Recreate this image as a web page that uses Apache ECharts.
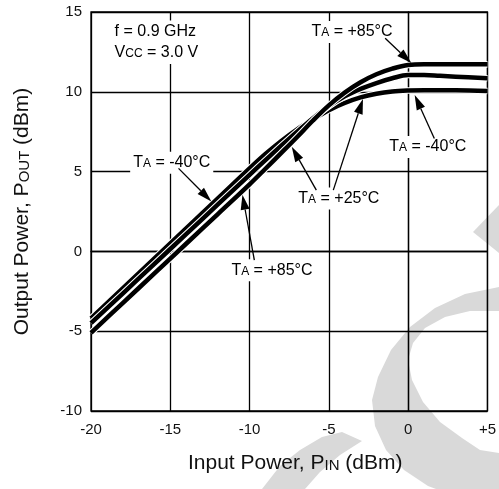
<!DOCTYPE html>
<html><head><meta charset="utf-8">
<script src="https://cdn.jsdelivr.net/npm/echarts@6/dist/echarts.min.js"></script>
<style>html,body{margin:0;padding:0;background:#fff}#c{width:499px;height:489px}</style>
</head><body><div id="c"></div>
<script>
// ---- data ----
const pinValues   = [-20, -18, -16, -14, -12, -10, -9, -8, -7, -6, -5, -4, -3, -2, -1, 0, 1, 2, 3, 5];
const poutMinus40 = [-4.2, -2.32, -0.44, 1.44, 3.32, 5.2, 6.1, 6.92, 7.65, 8.28, 8.85, 9.3, 9.65, 9.88, 10.02, 10.08, 10.1, 10.1, 10.1, 10.05];
const poutPlus25  = [-4.5, -2.64, -0.78, 1.08, 2.94, 4.8, 5.72, 6.62, 7.5, 8.35, 9.1, 9.72, 10.18, 10.55, 10.85, 11.05, 11.05, 11.0, 10.95, 10.85];
const poutPlus85  = [-5.1, -3.24, -1.38, 0.48, 2.34, 4.2, 5.18, 6.17, 7.17, 8.2, 9.15, 9.95, 10.6, 11.1, 11.45, 11.68, 11.72, 11.72, 11.72, 11.72];
const xTicks = [-20, -15, -10, -5, 0, 5];
const yTicks = [-10, -5, 0, 5, 10, 15];

// annotation texts (anchored in data coordinates)
const labels = [
  {text: '{n|f = 0.9 GHz}', at: [-18.7, 13.78], align: 'left'},
  {text: '{n|V}{s|CC}{n| = 3.0 V}', at: [-18.7, 12.43], align: 'left'},
  {text: '{n|T}{s|A}{n| = -40°C}', at: [-14.91, 5.55], align: 'center'},
  {text: '{n|T}{s|A}{n| = +85°C}', at: [-3.54, 13.75], align: 'center'},
  {text: '{n|T}{s|A}{n| = -40°C}', at: [1.24, 6.54], align: 'center'},
  {text: '{n|T}{s|A}{n| = +25°C}', at: [-4.37, 3.31], align: 'center'},
  {text: '{n|T}{s|A}{n| = +85°C}', at: [-8.59, -1.18], align: 'center'}
];
const arrows = [
  {from: [-14.48, 5.2], to: [-12.41, 3.13]},
  {from: [-1.45, 13.35], to: [0.2, 11.8]},
  {from: [1.65, 7.08], to: [0.41, 9.8]},
  {from: [-5.79, 3.84], to: [-7.34, 6.55]},
  {from: [-4.72, 3.84], to: [-2.85, 9.55]},
  {from: [-9.7, -0.55], to: [-10.45, 3.55]}
];

const FONT = '"Liberation Sans", Arial, Helvetica, sans-serif';
const INK = '#111';
const chart = echarts.init(document.getElementById('c'), null, {renderer: 'canvas'});

function pair(name, vals) {
  const d = pinValues.map((x, i) => [x, vals[i]]);
  return [
    {type: 'line', name: name + ' halo', data: d, smooth: 0.35, symbol: 'none', silent: true,
     lineStyle: {color: '#fff', width: 6.6, cap: 'butt'}, z: 3},
    {type: 'line', name: name, data: d, smooth: 0.35, symbol: 'none', silent: true,
     lineStyle: {color: '#000', width: 4.5, cap: 'butt'}, z: 3}
  ];
}

const wmColor = '#d9d9d9';
const watermark = [
  {type: 'polygon', z: -10, silent: true, shape: {points: [
    [499,287],[465,294],[435,308],[410,327],[391,350],[378,377],[372,400],[375,426],[386,450],[404,470],[428,486],[436,489],
    [499,489],[499,453],[480,450],[462,438],[440,422],[423,402],[412,380],[408,360],[413,343],[425,328],[445,317],[470,311],[499,311]
  ]}, style: {fill: wmColor}},
  {type: 'polygon', z: -10, silent: true, shape: {points: [[499,205],[473,232],[499,253]]}, style: {fill: wmColor}},
  {type: 'polygon', z: -10, silent: true, shape: {points: [
    [262,489],[280,466],[300,450],[322,437],[342,432],[362,441],[340,455],[320,472],[305,489]
  ]}, style: {fill: wmColor}}
];

const richN = {fontSize: 16, fontFamily: FONT, color: INK, verticalAlign: 'bottom'};
const richS = {fontSize: 12, fontFamily: FONT, color: INK, verticalAlign: 'bottom', padding: [0, 0, 1, 0]};
const titleRich = {n: {fontSize: 21, fontFamily: FONT, color: INK, verticalAlign: 'bottom'},
                   s: {fontSize: 15, fontFamily: FONT, color: INK, verticalAlign: 'bottom', padding: [0,0,1,0]}};

chart.setOption({
  animation: false,
  backgroundColor: '#fff',
  grid: {left: 91, right: 5, top: 12, bottom: 78, show: true, borderColor: '#000', borderWidth: 1.3, backgroundColor: 'transparent'},
  xAxis: {
    type: 'value', min: -20, max: 5, interval: 5,
    axisLine: {show: true, lineStyle: {color: '#000', width: 1.3}},
    axisTick: {show: false},
    splitLine: {show: true, lineStyle: {color: '#000', width: 1.3}},
    axisLabel: {color: INK, fontSize: 15, fontFamily: FONT, margin: 11,
      formatter: v => xTicks.includes(v) ? (v > 0 ? '+' + v : String(v)) : ''},
    name: '{n|Input Power, P}{s|IN}{n| (dBm)}', nameLocation: 'middle', nameGap: 42,
    nameTextStyle: {rich: titleRich, padding: [0, 0, 0, 12]}
  },
  yAxis: {
    type: 'value', min: -10, max: 15, interval: 5,
    axisLine: {show: true, lineStyle: {color: '#000', width: 1.3}},
    axisTick: {show: false},
    splitLine: {show: true, lineStyle: {color: '#000', width: 1.3}},
    axisLabel: {color: INK, fontSize: 15, fontFamily: FONT, margin: 9,
      formatter: v => yTicks.includes(v) ? String(v) : ''},
    name: '{n|Output Power, P}{s|OUT}{n| (dBm)}', nameLocation: 'middle', nameGap: 58, nameRotate: 90,
    nameTextStyle: {rich: titleRich}
  },
  series: [].concat(pair('TA = -40°C', poutMinus40), pair('TA = +25°C', poutPlus25), pair('TA = +85°C', poutPlus85)),
  graphic: watermark
});

// annotations and arrows placed through the chart's own coordinate conversion
const g = watermark.slice();
labels.forEach(l => {
  const p = chart.convertToPixel({gridIndex: 0}, l.at);
  g.push({type: 'text', z: 50, silent: true, x: p[0], y: p[1], style: {
    text: l.text, rich: {n: richN, s: richS}, align: l.align, verticalAlign: 'middle',
    backgroundColor: '#fff', padding: [3, 3, 3, 3]
  }});
});
arrows.forEach(a => {
  const s = chart.convertToPixel({gridIndex: 0}, a.from);
  const t = chart.convertToPixel({gridIndex: 0}, a.to);
  const dx = t[0] - s[0], dy = t[1] - s[1];
  const len = Math.hypot(dx, dy), ux = dx / len, uy = dy / len;
  const L = 15, W = 4.5;
  const bx = t[0] - ux * L, by = t[1] - uy * L;
  g.push({type: 'line', z: 60, silent: true, shape: {x1: s[0], y1: s[1], x2: bx, y2: by}, style: {stroke: '#000', lineWidth: 1.3}});
  g.push({type: 'polygon', z: 60, silent: true, shape: {points: [[t[0], t[1]], [bx - uy * W, by + ux * W], [bx + uy * W, by - ux * W]]}, style: {fill: '#000'}});
});
chart.setOption({graphic: g});
</script>
</body></html>
